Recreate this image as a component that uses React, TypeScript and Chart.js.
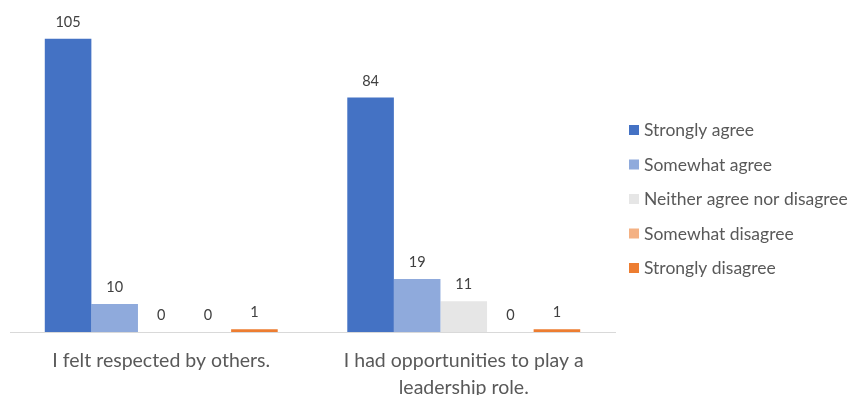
import React, { useEffect, useRef } from "react";
import { Chart, registerables } from "chart.js";

Chart.register(...registerables);

const categories: (string | string[])[] = [
  ["I felt respected by others."],
  ["I had opportunities to play a", "leadership role."],
];
const seriesNames = [
  "Strongly agree",
  "Somewhat agree",
  "Neither agree nor disagree",
  "Somewhat disagree",
  "Strongly disagree",
];
const stronglyAgree = [105, 84];
const somewhatAgree = [10, 19];
const neither = [0, 11];
const somewhatDisagree = [0, 0];
const stronglyDisagree = [1, 1];
const seriesColors = ["#4472C4", "#8FAADC", "#E6E6E6", "#F4B183", "#ED7D31"];

const FONT = "Lato, 'Open Sans', sans-serif";

const valueLabels = {
  id: "valueLabels",
  afterDatasetsDraw(chart: any) {
    const ctx = chart.ctx;
    ctx.save();
    ctx.font = `14.5px ${FONT}`;
    ctx.fillStyle = "#404040";
    ctx.textAlign = "center";
    ctx.textBaseline = "middle";
    chart.data.datasets.forEach((ds: any, i: number) => {
      const meta = chart.getDatasetMeta(i);
      meta.data.forEach((el: any, j: number) => {
        ctx.fillText(String(ds.data[j]), el.x, el.y - 16.5);
      });
    });
    ctx.restore();
  },
};

const sideLegend = {
  id: "sideLegend",
  afterDraw(chart: any) {
    const ctx = chart.ctx;
    const area = chart.chartArea;
    const boxX = area.right + 14;
    const firstY = 130;
    const step = 34.5;
    ctx.save();
    ctx.font = `17.5px ${FONT}`;
    ctx.textAlign = "left";
    ctx.textBaseline = "middle";
    chart.data.datasets.forEach((ds: any, i: number) => {
      const y = firstY + i * step;
      ctx.fillStyle = ds.backgroundColor;
      ctx.fillRect(boxX, y - 5, 10, 10);
      ctx.fillStyle = "#595959";
      ctx.fillText(ds.label, boxX + 15, y + 0.5);
    });
    ctx.restore();
  },
};

export default function App() {
  const ref = useRef<HTMLCanvasElement | null>(null);
  useEffect(() => {
    if (!ref.current) return;
    const allSeries = [stronglyAgree, somewhatAgree, neither, somewhatDisagree, stronglyDisagree];
    const chart = new Chart(ref.current, {
      type: "bar",
      data: {
        labels: categories,
        datasets: allSeries.map((d, i) => ({
          label: seriesNames[i],
          data: d,
          backgroundColor: seriesColors[i],
          borderWidth: 0,
          categoryPercentage: 0.77,
          barPercentage: 1,
        })),
      },
      options: {
        animation: false,
        responsive: true,
        maintainAspectRatio: false,
        layout: { padding: { left: 10, right: 239, top: 0, bottom: 0 } },
        plugins: {
          legend: { display: false },
          tooltip: { enabled: false },
        },
        scales: {
          x: {
            grid: { display: false, drawTicks: false },
            border: { display: true, color: "#D9D9D9", width: 1 },
            ticks: {
              color: "#595959",
              font: { family: FONT, size: 19.5, lineHeight: "27px" },
              padding: 15,
              maxRotation: 0,
              autoSkip: false,
            },
          },
          y: {
            display: false,
            min: 0,
            max: 118.9,
          },
        },
      },
      plugins: [valueLabels, sideLegend],
    });
    return () => chart.destroy();
  }, []);
  return (
    <div style={{ position: "fixed", left: 0, top: 0, width: 854, height: 416, background: "#fff" }}>
      <canvas ref={ref} />
    </div>
  );
}
